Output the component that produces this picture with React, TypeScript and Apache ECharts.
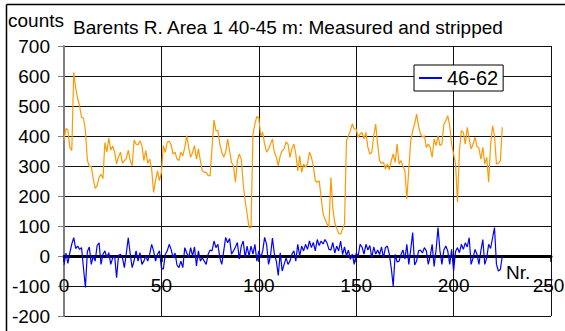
import React, { useEffect, useRef } from "react";
import * as echarts from "echarts";

const xTicks = [0, 50, 100, 150, 200, 250];
const yTicks = [-200, -100, 0, 100, 200, 300, 400, 500, 600, 700];
const chartTitle = "Barents R. Area 1 40-45 m: Measured and stripped";
const yName = "counts";
const xName = "Nr.";
const seriesNames = ["Measured", "46-62"];

// Measured counts (orange), index 0..225
const measured = [
  385, 425, 420, 362, 352, 612, 560, 525, 500, 462, 460, 418, 320, 298, 300, 257, 225, 234, 262, 272,
  258, 378, 346, 393, 353, 367, 346, 307, 332, 346, 310, 318, 325, 353, 318, 301, 387, 373, 371, 384,
  367, 318, 351, 309, 323, 290, 212, 251, 284, 251, 279, 368, 345, 380, 382, 370, 340, 346, 323, 318,
  346, 334, 362, 401, 362, 329, 345, 368, 323, 357, 318, 284, 279, 279, 268, 268, 362, 453, 418, 418,
  373, 346, 329, 346, 390, 351, 312, 301, 246, 318, 340, 323, 240, 184, 140, 95, 95, 405, 440, 465,
  460, 400, 412, 373, 346, 357, 373, 390, 345, 329, 301, 334, 351, 357, 380, 373, 329, 357, 373, 340,
  284, 334, 279, 307, 296, 307, 346, 329, 301, 251, 246, 251, 196, 140, 123, 107, 96, 262, 160, 110,
  92, 75, 73, 90, 107, 384, 401, 418, 440, 423, 423, 395, 407, 412, 390, 412, 362, 340, 346, 401,
  440, 373, 318, 309, 312, 290, 307, 287, 318, 340, 312, 373, 307, 318, 300, 284, 190, 290, 384, 418,
  440, 473, 434, 407, 396, 401, 362, 373, 362, 329, 390, 368, 401, 368, 373, 440, 451, 468, 434, 373,
  340, 307, 179, 351, 418, 412, 373, 429, 390, 357, 373, 396, 365, 360, 323, 362, 307, 329, 246, 370,
  434, 401, 307, 309, 318, 429,
];

// Stripped 46-62 (blue), index 0..225
const stripped = [
  -30, 10, -25, 11, 40, 61, 25, 33, 22, 28, -40, -105, 15, 30, -28, 0, -17, 35, 44, -28,
  6, 17, -6, 11, -28, -6, 0, -72, 2, 6, -6, -39, 10, 61, 6, -39, -15, 17, -17, 11,
  -28, -17, 0, -17, 6, 39, 17, -17, 6, 17, -39, -44, 6, 17, 39, 22, -6, 10, -30, -39,
  -17, -39, 28, 10, -6, 28, 0, 30, -33, 17, -17, -6, -17, -28, 6, 20, 17, 50, 28, 39,
  -6, -28, 17, 62, 44, 58, 6, 17, 30, 45, -10, 33, 50, -6, 33, 0, 33, 6, 39, -17,
  17, -6, 17, 62, 39, -28, 0, 60, 6, -17, -65, 11, -50, -28, -6, -28, -17, 6, 17, -17,
  39, 0, 33, 17, 39, 22, 50, 28, 45, 17, 55, 35, 50, 40, 55, 44, 22, 20, 45, 10,
  33, 17, 50, 5, 30, 0, 20, -11, 6, -28, 10, 0, 39, 30, 6, 39, 20, 35, -6, 30,
  6, 20, 5, 30, -6, 28, 33, 6, -40, -100, 5, -20, -17, 5, 20, -10, 39, -28, 22, 78,
  -30, -17, 17, 20, 10, 28, 17, -28, 0, 39, -35, 20, 95, 17, -28, 20, 33, 17, -28, 22,
  -50, 15, 28, 11, 39, 22, 44, 30, 61, -28, -6, 22, 6, -28, 17, 55, -28, -6, 39, 25,
  60, 95, -28, -50, -45, 0,
];

const FONT = "'Liberation Sans', Arial, Helvetica, sans-serif";

export default function App() {
  const ref = useRef<HTMLDivElement>(null);

  useEffect(() => {
    document.body.style.margin = "0";
    const chart = echarts.init(ref.current as HTMLDivElement, null, { renderer: "svg" });
    const xMax = xTicks[xTicks.length - 1];
    chart.setOption({
      animation: false,
      backgroundColor: "#ffffff",
      textStyle: { fontFamily: FONT },
      grid: { left: 64, right: 14, top: 46, bottom: 15, containLabel: false, outerBoundsMode: "none" },
      legend: {
        data: [seriesNames[1]],
        left: 414,
        top: 65,
        backgroundColor: "#ffffff",
        borderColor: "#000000",
        borderWidth: 1,
        borderRadius: 0,
        padding: [3, 5, 3, 5],
        icon: "rect",
        itemWidth: 23,
        itemHeight: 2,
        textStyle: { fontSize: 20, color: "#000000", fontFamily: FONT },
      },
      xAxis: {
        type: "value",
        min: xTicks[0],
        max: xMax,
        interval: xTicks[1] - xTicks[0],
        axisLine: { show: true, onZero: true, lineStyle: { color: "#000000", width: 3 } },
        axisTick: { show: true, length: 6, lineStyle: { color: "#000000", width: 1.5 } },
        axisLabel: {
          fontSize: 19,
          color: "#000000",
          margin: 21,
          inside: true,
          fontFamily: FONT,
          formatter: (v: number) => (v === xMax ? "{last|" + v + "}" : String(v)),
          rich: {
            last: { fontSize: 19, color: "#000000", fontFamily: FONT, padding: [0, 5, 0, 0] },
          },
        },
        splitLine: { show: true, lineStyle: { color: "#111111", width: 1 } },
      },
      yAxis: {
        type: "value",
        min: yTicks[0],
        max: yTicks[yTicks.length - 1],
        interval: yTicks[1] - yTicks[0],
        axisLine: { show: true, onZero: false, lineStyle: { color: "#808080", width: 2 } },
        axisTick: { show: true, length: 6, lineStyle: { color: "#808080", width: 1 } },
        axisLabel: { fontSize: 19, color: "#000000", margin: 14, fontFamily: FONT },
        splitLine: { show: true, lineStyle: { color: "#111111", width: 1 } },
      },
      graphic: [
        { type: "line", shape: { x1: 6.5, y1: 4.5, x2: 565, y2: 4.5 }, style: { stroke: "#000000", lineWidth: 1.5 } },
        { type: "line", shape: { x1: 6.5, y1: 4.5, x2: 6.5, y2: 331 }, style: { stroke: "#000000", lineWidth: 1.5 } },
        {
          type: "text", x: 8, y: 20,
          style: { text: yName, fontSize: 19, fontFamily: FONT, fill: "#000000", align: "left", verticalAlign: "middle" },
        },
        {
          type: "text", x: 73, y: 27,
          style: { text: chartTitle, fontSize: 19, fontFamily: FONT, fill: "#000000", align: "left", verticalAlign: "middle" },
        },
        {
          type: "text", x: 506, y: 272,
          style: { text: xName, fontSize: 19, fontFamily: FONT, fill: "#000000", align: "left", verticalAlign: "middle" },
        },
      ],
      series: [
        {
          name: seriesNames[0],
          type: "line",
          data: measured.map((v, i) => [i, v]),
          showSymbol: false,
          symbol: "none",
          color: "#FF9900",
          lineStyle: { color: "#FF9900", width: 1.2 },
          z: 3,
        },
        {
          name: seriesNames[1],
          type: "line",
          data: stripped.map((v, i) => [i, v]),
          showSymbol: false,
          symbol: "none",
          color: "#0000FF",
          lineStyle: { color: "#0000FF", width: 1.2 },
          z: 3,
        },
      ],
    });
    return () => chart.dispose();
  }, []);

  return <div ref={ref} style={{ width: 565, height: 331, position: "absolute", left: 0, top: 0 }} />;
}
